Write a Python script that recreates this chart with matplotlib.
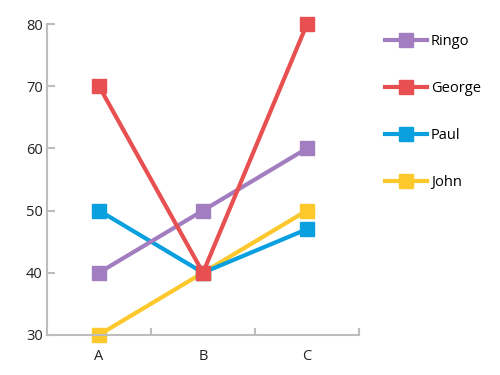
import matplotlib.pyplot as plt

# Data
categories = ["A", "B", "C"]
john = [30, 40, 50]
paul = [50, 40, 47]
ringo = [40, 50, 60]
george = [70, 40, 80]

plt.rcParams['font.family'] = ['Open Sans', 'DejaVu Sans']

fig = plt.figure(figsize=(5, 3.75), dpi=100)
ax = fig.add_axes([0.094, 0.107, 0.624, 0.829])

grey = '#bdbdbd'
series = [
    ("John", john, '#fcc82c'),
    ("Paul", paul, '#0aa0e0'),
    ("Ringo", ringo, '#a27dbf'),
    ("George", george, '#e84f50'),
]
lines = {}
for name, vals, color in series:
    line, = ax.plot(categories, vals, color=color, lw=3, marker='s', ms=10,
                    clip_on=False, label=name)
    lines[name] = line

ax.set_xlim(-0.5, 2.5)
ax.set_ylim(30, 80)
ax.set_yticks([30, 40, 50, 60, 70, 80])
ax.set_xticks([0.5, 1.5, 2.5], minor=True)
ax.tick_params(axis='x', which='major', length=0, pad=10.5, labelsize=10.5, colors='#222222')
ax.tick_params(axis='x', which='minor', direction='in', length=5, width=1.5, color=grey)
ax.tick_params(axis='y', direction='in', length=6, width=1.5, color=grey, pad=3,
               labelsize=10.5, labelcolor='#222222')

for side in ['top', 'right']:
    ax.spines[side].set_visible(False)
for side in ['left', 'bottom']:
    ax.spines[side].set_color(grey)
    ax.spines[side].set_linewidth(1.5)

order = ["Ringo", "George", "Paul", "John"]
fig.legend([lines[n] for n in order], order, loc='upper left',
           bbox_to_anchor=(0.77, 0.91), frameon=False, borderpad=0,
           borderaxespad=0, handlelength=2.9, handletextpad=0.25,
           labelspacing=2.2, fontsize=10.5)

fig.savefig("out.png", dpi=100)
